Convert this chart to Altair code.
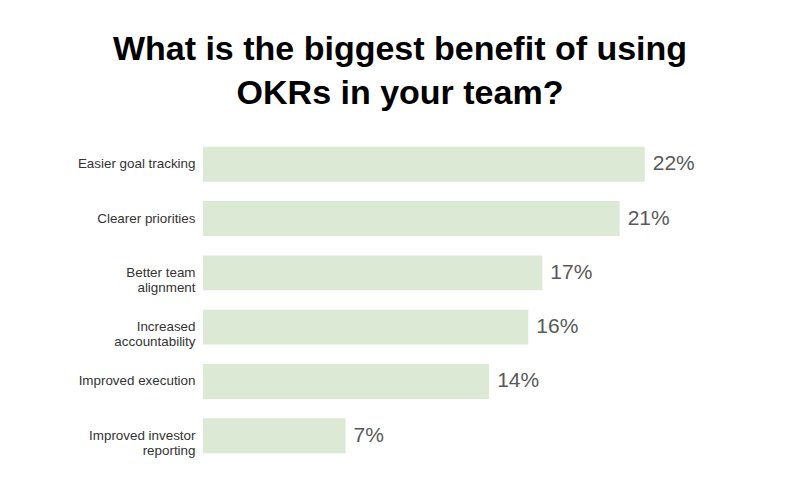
import altair as alt
import pandas as pd

categories = [
    "Easier goal tracking",
    "Clearer priorities",
    "Better team\nalignment",
    "Increased\naccountability",
    "Improved execution",
    "Improved investor\nreporting",
]
values = [22.0, 20.75, 16.9, 16.2, 14.25, 7.1]
labels = ["22%", "21%", "17%", "16%", "14%", "7%"]

df = pd.DataFrame({"category": categories, "value": values, "label": labels})

y_enc = alt.Y(
    "category:N",
    sort=categories,
    title=None,
    scale=alt.Scale(paddingInner=0.357, paddingOuter=0.18),
    axis=alt.Axis(
        domain=False,
        ticks=False,
        labelExpr="split(datum.label, '\\n')",
        labelFont="Liberation Sans",
        labelFontSize=13.4,
        labelColor="#333333",
        labelLineHeight=15,
        labelPadding=8,
        labelLimit=300,
    ),
)
x_enc = alt.X(
    "value:Q",
    scale=alt.Scale(domain=[0, 25]),
    axis=None,
)

bars = alt.Chart(df).mark_bar(color="#dce9d5").encode(x=x_enc, y=y_enc)
texts = alt.Chart(df).mark_text(
    align="left", baseline="middle", dx=8, fontSize=21,
    font="Liberation Sans", color="#595959"
).encode(x=x_enc, y=y_enc, text="label:N")

chart = (
    alt.layer(bars, texts)
    .properties(
        width=502,
        height=326,
        background="white",
        title=alt.TitleParams(
            text=["What is the biggest benefit of using", "OKRs in your team?"],
            font="Liberation Sans",
            fontSize=34,
            fontWeight="bold",
            color="#000000",
            lineHeight=44,
            anchor="middle",
            frame="group",
            dx=-54,
            offset=26,
        ),
        padding={"left": 195, "top": 129, "right": 10, "bottom": 10},
        autosize=alt.AutoSizeParams(type="none"),
    )
    .configure_view(strokeWidth=0, stroke="transparent")
)

chart.save("out.html", embed_options={"renderer": "svg", "actions": False})
